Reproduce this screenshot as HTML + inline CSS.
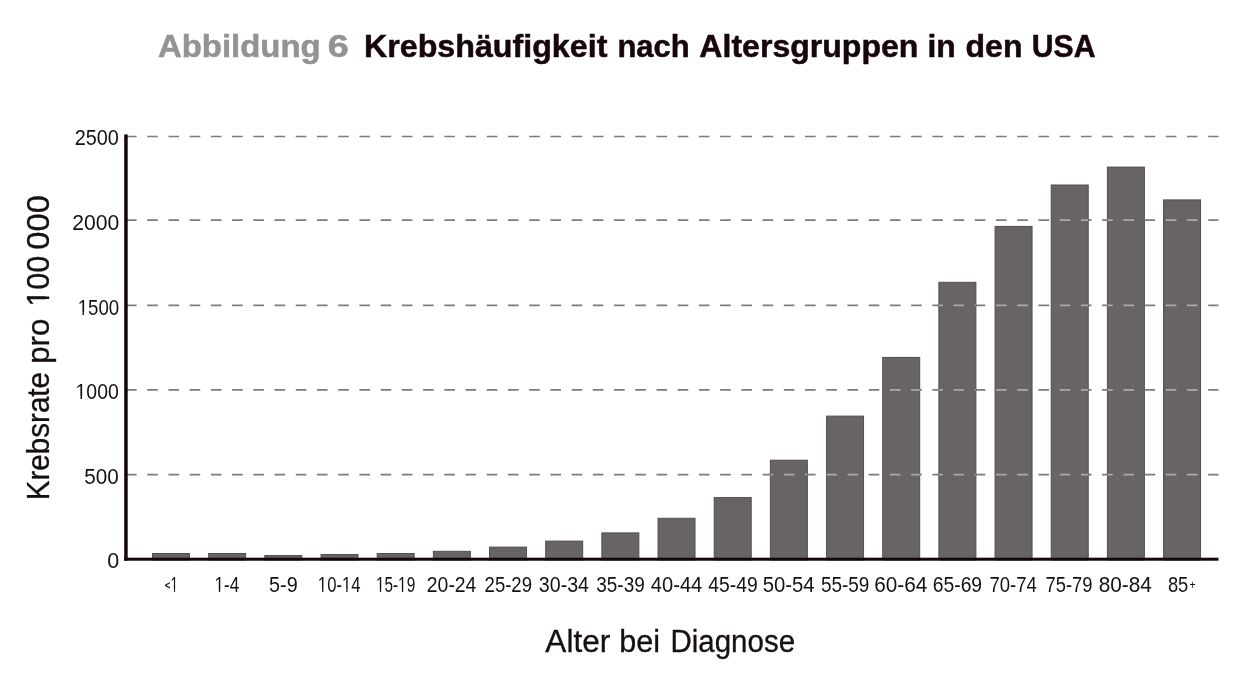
<!DOCTYPE html>
<html><head><meta charset="utf-8"><title>Abbildung 6 Krebshäufigkeit nach Altersgruppen in den USA</title>
<style>
html,body{margin:0;padding:0;background:#fff;}
body{width:1260px;height:673px;overflow:hidden;}
svg{display:block;will-change:transform;}
text{font-family:"Liberation Sans",Arial,sans-serif;}
</style></head><body>
<svg width="1260" height="673" viewBox="0 0 1260 673">
<defs><clipPath id="bc"><rect x="152.50" y="553.50" width="37.0" height="6.50"/><rect x="208.67" y="553.50" width="37.0" height="6.50"/><rect x="264.84" y="555.50" width="37.0" height="4.50"/><rect x="321.01" y="554.50" width="37.0" height="5.50"/><rect x="377.18" y="553.50" width="37.0" height="6.50"/><rect x="433.35" y="551.30" width="37.0" height="8.70"/><rect x="489.52" y="547.10" width="37.0" height="12.90"/><rect x="545.69" y="541.10" width="37.0" height="18.90"/><rect x="601.86" y="532.90" width="37.0" height="27.10"/><rect x="658.03" y="518.30" width="37.0" height="41.70"/><rect x="714.20" y="497.60" width="37.0" height="62.40"/><rect x="770.37" y="460.20" width="37.0" height="99.80"/><rect x="826.54" y="416.10" width="37.0" height="143.90"/><rect x="882.71" y="357.40" width="37.0" height="202.60"/><rect x="938.88" y="282.30" width="37.0" height="277.70"/><rect x="995.05" y="226.40" width="37.0" height="333.60"/><rect x="1051.22" y="185.00" width="37.0" height="375.00"/><rect x="1107.39" y="167.10" width="37.0" height="392.90"/><rect x="1163.56" y="199.90" width="37.0" height="360.10"/></clipPath><clipPath id="c_y1500"><path clip-rule="evenodd" d="M-3000 -3000H4000V4000H-3000ZM78.06 312.19H82.44V316.20H78.06ZM83.89 312.19H88.13V316.20H83.89Z"/></clipPath><clipPath id="c_y1000"><path clip-rule="evenodd" d="M-3000 -3000H4000V4000H-3000ZM76.00 396.59H80.51V400.60H76.00ZM82.03 396.59H86.39V400.60H82.03Z"/></clipPath><clipPath id="c_x0b"><path clip-rule="evenodd" d="M-3000 -3000H4000V4000H-3000ZM170.63 589.19H174.10V593.20H170.63ZM175.10 589.19H178.47V593.20H175.10Z"/></clipPath><clipPath id="c_x1"><path clip-rule="evenodd" d="M-3000 -3000H4000V4000H-3000ZM214.72 589.39H218.82V593.40H214.72ZM220.13 589.39H224.10V593.40H220.13Z"/></clipPath><clipPath id="c_x3"><path clip-rule="evenodd" d="M-3000 -3000H4000V4000H-3000ZM318.14 589.39H322.17V593.40H318.14ZM323.44 589.39H327.34V593.40H323.44ZM342.23 589.39H346.26V593.40H342.23ZM347.54 589.39H351.43V593.40H347.54Z"/></clipPath><clipPath id="c_x4"><path clip-rule="evenodd" d="M-3000 -3000H4000V4000H-3000ZM376.11 589.39H379.90V593.40H376.11ZM381.06 589.39H384.73V593.40H381.06ZM398.27 589.39H402.06V593.40H398.27ZM403.22 589.39H406.89V593.40H403.22Z"/></clipPath><clipPath id="c_yt"><path clip-rule="evenodd" d="M-3000 -3000H4000V4000H-3000ZM192.75 -3.22H199.21V1.50H192.75ZM201.71 -3.22H207.93V1.50H201.71Z"/></clipPath></defs>
<rect width="1260" height="673" fill="#fff"/>
<g stroke="#7c7c7c" stroke-width="1.7" stroke-dasharray="10.6 10.62"><line x1="126" y1="136.5" x2="1218.5" y2="136.5"/><line x1="126" y1="220.2" x2="1218.5" y2="220.2"/><line x1="126" y1="305.3" x2="1218.5" y2="305.3"/><line x1="126" y1="389.8" x2="1218.5" y2="389.8"/><line x1="126" y1="474.7" x2="1218.5" y2="474.7"/></g>
<g fill="#686364" stroke="#534e4f" stroke-width="1"><rect x="152.50" y="553.50" width="37.0" height="6.50"/><rect x="208.67" y="553.50" width="37.0" height="6.50"/><rect x="264.84" y="555.50" width="37.0" height="4.50"/><rect x="321.01" y="554.50" width="37.0" height="5.50"/><rect x="377.18" y="553.50" width="37.0" height="6.50"/><rect x="433.35" y="551.30" width="37.0" height="8.70"/><rect x="489.52" y="547.10" width="37.0" height="12.90"/><rect x="545.69" y="541.10" width="37.0" height="18.90"/><rect x="601.86" y="532.90" width="37.0" height="27.10"/><rect x="658.03" y="518.30" width="37.0" height="41.70"/><rect x="714.20" y="497.60" width="37.0" height="62.40"/><rect x="770.37" y="460.20" width="37.0" height="99.80"/><rect x="826.54" y="416.10" width="37.0" height="143.90"/><rect x="882.71" y="357.40" width="37.0" height="202.60"/><rect x="938.88" y="282.30" width="37.0" height="277.70"/><rect x="995.05" y="226.40" width="37.0" height="333.60"/><rect x="1051.22" y="185.00" width="37.0" height="375.00"/><rect x="1107.39" y="167.10" width="37.0" height="392.90"/><rect x="1163.56" y="199.90" width="37.0" height="360.10"/></g>
<g stroke="#aca8a9" stroke-width="1.7" stroke-dasharray="10.6 10.62" clip-path="url(#bc)"><line x1="126" y1="136.5" x2="1218.5" y2="136.5"/><line x1="126" y1="220.2" x2="1218.5" y2="220.2"/><line x1="126" y1="305.3" x2="1218.5" y2="305.3"/><line x1="126" y1="389.8" x2="1218.5" y2="389.8"/><line x1="126" y1="474.7" x2="1218.5" y2="474.7"/></g>
<g fill="#150808">
<rect x="124.2" y="134.4" width="3.5" height="426.3"/>
<rect x="124.2" y="557.7" width="1094.3" height="3"/>
</g>
<text y="56.7" id="t1" font-size="31" font-weight="bold" fill="#939393" stroke="#939393" stroke-width="0.5"><tspan x="157.91" textLength="162.80" lengthAdjust="spacingAndGlyphs">Abbildung</tspan> <tspan x="327.78" textLength="21.05" lengthAdjust="spacingAndGlyphs">6</tspan></text>
<text y="56.8" id="t2" font-size="31" font-weight="bold" fill="#17070a" stroke="#17070a" stroke-width="0.5"><tspan x="363.94" textLength="243.43" lengthAdjust="spacingAndGlyphs">Krebshäufigkeit</tspan> <tspan x="617.40" textLength="72.25" lengthAdjust="spacingAndGlyphs">nach</tspan> <tspan x="699.39" textLength="219.02" lengthAdjust="spacingAndGlyphs">Altersgruppen</tspan> <tspan x="927.56" textLength="28.25" lengthAdjust="spacingAndGlyphs">in</tspan> <tspan x="965.58" textLength="56.89" lengthAdjust="spacingAndGlyphs">den</tspan> <tspan x="1031.83" textLength="63.71" lengthAdjust="spacingAndGlyphs">USA</tspan></text>
<text y="144.7" id="y2500" font-size="21.5" font-weight="normal" fill="#161010"><tspan x="74.69" textLength="44.20" lengthAdjust="spacingAndGlyphs">2500</tspan></text>
<text y="229.9" id="y2000" font-size="21.5" font-weight="normal" fill="#161010"><tspan x="72.22" textLength="47.01" lengthAdjust="spacingAndGlyphs">2000</tspan></text>
<text y="314.7" id="y1500" font-size="21.5" font-weight="normal" fill="#161010" clip-path="url(#c_y1500)"><tspan x="77.64" textLength="41.57" lengthAdjust="spacingAndGlyphs">1500</tspan></text>
<text y="399.1" id="y1000" font-size="21.5" font-weight="normal" fill="#161010" clip-path="url(#c_y1000)"><tspan x="75.52" textLength="43.27" lengthAdjust="spacingAndGlyphs">1000</tspan></text>
<text y="484.1" id="y500" font-size="21.5" font-weight="normal" fill="#161010"><tspan x="84.25" textLength="34.50" lengthAdjust="spacingAndGlyphs">500</tspan></text>
<text y="567.7" id="y0" font-size="21.5" font-weight="normal" fill="#161010"><tspan x="107.20" textLength="11.97" lengthAdjust="spacingAndGlyphs">0</tspan></text>
<text y="589.2" id="x0a" font-size="11.5" font-weight="normal" fill="#161010" stroke="#161010" stroke-width="0.45"><tspan x="164.82" textLength="5.49" lengthAdjust="spacingAndGlyphs">&lt;</tspan></text>
<text y="591.7" id="x0b" font-size="21.5" font-weight="normal" fill="#161010" clip-path="url(#c_x0b)"><tspan x="170.60" textLength="7.53" lengthAdjust="spacingAndGlyphs">1</tspan></text>
<text y="591.9" id="x1" font-size="21.5" font-weight="normal" fill="#161010" clip-path="url(#c_x1)"><tspan x="214.41" textLength="24.75" lengthAdjust="spacingAndGlyphs">1-4</tspan></text>
<text y="591.9" id="x2" font-size="21.5" font-weight="normal" fill="#161010"><tspan x="269.08" textLength="28.61" lengthAdjust="spacingAndGlyphs">5-9</tspan></text>
<text y="591.9" id="x3" font-size="21.5" font-weight="normal" fill="#161010" clip-path="url(#c_x3)"><tspan x="317.87" textLength="42.65" lengthAdjust="spacingAndGlyphs">10-14</tspan></text>
<text y="591.9" id="x4" font-size="21.5" font-weight="normal" fill="#161010" clip-path="url(#c_x4)"><tspan x="375.94" textLength="39.23" lengthAdjust="spacingAndGlyphs">15-19</tspan></text>
<text y="591.9" id="x5" font-size="21.5" font-weight="normal" fill="#161010"><tspan x="426.86" textLength="49.50" lengthAdjust="spacingAndGlyphs">20-24</tspan></text>
<text y="591.9" id="x6" font-size="21.5" font-weight="normal" fill="#161010"><tspan x="484.58" textLength="47.42" lengthAdjust="spacingAndGlyphs">25-29</tspan></text>
<text y="591.9" id="x7" font-size="21.5" font-weight="normal" fill="#161010"><tspan x="538.85" textLength="50.11" lengthAdjust="spacingAndGlyphs">30-34</tspan></text>
<text y="591.9" id="x8" font-size="21.5" font-weight="normal" fill="#161010"><tspan x="596.31" textLength="48.46" lengthAdjust="spacingAndGlyphs">35-39</tspan></text>
<text y="591.9" id="x9" font-size="21.5" font-weight="normal" fill="#161010"><tspan x="650.84" textLength="51.44" lengthAdjust="spacingAndGlyphs">40-44</tspan></text>
<text y="591.9" id="x10" font-size="21.5" font-weight="normal" fill="#161010"><tspan x="708.24" textLength="49.40" lengthAdjust="spacingAndGlyphs">45-49</tspan></text>
<text y="591.9" id="x11" font-size="21.5" font-weight="normal" fill="#161010"><tspan x="762.67" textLength="51.99" lengthAdjust="spacingAndGlyphs">50-54</tspan></text>
<text y="591.9" id="x12" font-size="21.5" font-weight="normal" fill="#161010"><tspan x="820.93" textLength="48.46" lengthAdjust="spacingAndGlyphs">55-59</tspan></text>
<text y="591.9" id="x13" font-size="21.5" font-weight="normal" fill="#161010"><tspan x="874.25" textLength="53.03" lengthAdjust="spacingAndGlyphs">60-64</tspan></text>
<text y="591.9" id="x14" font-size="21.5" font-weight="normal" fill="#161010"><tspan x="932.72" textLength="49.40" lengthAdjust="spacingAndGlyphs">65-69</tspan></text>
<text y="591.9" id="x15" font-size="21.5" font-weight="normal" fill="#161010"><tspan x="989.51" textLength="47.36" lengthAdjust="spacingAndGlyphs">70-74</tspan></text>
<text y="591.9" id="x16" font-size="21.5" font-weight="normal" fill="#161010"><tspan x="1045.52" textLength="46.91" lengthAdjust="spacingAndGlyphs">75-79</tspan></text>
<text y="591.9" id="x17" font-size="21.5" font-weight="normal" fill="#161010"><tspan x="1098.64" textLength="53.13" lengthAdjust="spacingAndGlyphs">80-84</tspan></text>
<text y="591.9" id="x18a" font-size="21.5" font-weight="normal" fill="#161010"><tspan x="1167.89" textLength="20.44" lengthAdjust="spacingAndGlyphs">85</tspan></text>
<text y="588.9" id="x18b" font-size="12.5" font-weight="normal" fill="#161010"><tspan x="1189.45" textLength="6.06" lengthAdjust="spacingAndGlyphs">+</tspan></text>
<text y="651.7" id="xt" font-size="31" font-weight="normal" fill="#161010" stroke="#161010" stroke-width="0.3"><tspan x="545.39" textLength="64.86" lengthAdjust="spacingAndGlyphs">Alter</tspan> <tspan x="619.22" textLength="40.83" lengthAdjust="spacingAndGlyphs">bei</tspan> <tspan x="670.51" textLength="124.54" lengthAdjust="spacingAndGlyphs">Diagnose</tspan></text>
<text transform="translate(48.8,498.2) rotate(-90)" y="0" id="yt" font-size="31" font-weight="normal" fill="#161010" stroke="#161010" stroke-width="0.3" clip-path="url(#c_yt)"><tspan x="-2.10" textLength="128.35" lengthAdjust="spacingAndGlyphs">Krebsrate</tspan> <tspan x="134.39" textLength="45.13" lengthAdjust="spacingAndGlyphs">pro</tspan> <tspan x="191.42" textLength="51.00" lengthAdjust="spacingAndGlyphs">100</tspan> <tspan x="248.53" textLength="54.69" lengthAdjust="spacingAndGlyphs">000</tspan></text>
</svg>
</body></html>
